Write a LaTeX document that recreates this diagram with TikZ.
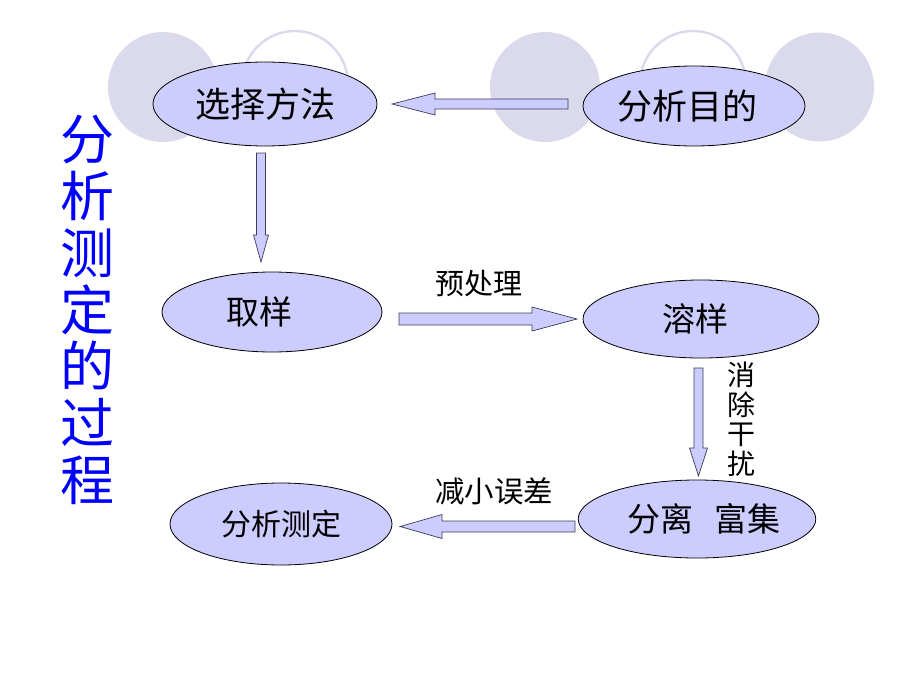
\documentclass[tikz,border=0pt]{standalone}
\usepackage{fontspec}
\newfontfamily\cjk{Noto Sans CJK SC}
\usetikzlibrary{shapes.geometric,calc}
\definecolor{bgc}{RGB}{218,218,236}
\definecolor{lav}{RGB}{204,204,255}
\definecolor{aedge}{RGB}{60,60,90}
\definecolor{ttl}{RGB}{0,0,255}
\tikzset{
  bgfill/.style={fill=bgc, draw=none},
  bgring/.style={draw=bgc, line width=2.4pt, fill=none},
  stagebox/.style={ellipse, draw=black, line width=0.8pt, fill=lav, inner sep=0pt, text=black},
  blockarrow/.style={fill=lav, draw=aedge, line width=0.7pt, line join=miter},
  steplabel/.style={inner sep=0pt, text=black, font=\cjk\fontsize{29}{29.5}\selectfont}
}
% horizontal block arrow: tail, tip, shaft half, head half, signed head length (+ = pointing right)
\newcommand{\harrow}[5]{%
  \draw[blockarrow] let \p1=(#1), \p2=(#2) in
    (\x1,{\y1+#3pt}) -- ({\x2-(#5pt)},{\y1+#3pt}) -- ({\x2-(#5pt)},{\y1+#4pt}) --
    (\x2,\y1) -- ({\x2-(#5pt)},{\y1-#4pt}) -- ({\x2-(#5pt)},{\y1-#3pt}) --
    (\x1,{\y1-#3pt}) -- cycle;}
% vertical block arrow: tail, tip, shaft half, head half, signed head length (+ = pointing down)
\newcommand{\varrow}[5]{%
  \draw[blockarrow] let \p1=(#1), \p2=(#2) in
    ({\x1-#3pt},\y1) -- ({\x1-#3pt},{\y2+(#5pt)}) -- ({\x1-#4pt},{\y2+(#5pt)}) --
    (\x1,\y2) -- ({\x1+#4pt},{\y2+(#5pt)}) -- ({\x1+#3pt},{\y2+(#5pt)}) --
    ({\x1+#3pt},\y1) -- cycle;}
\begin{document}
\begin{tikzpicture}[x=1pt,y=-1pt]
\useasboundingbox (0,0) rectangle (920,690);
\fill[white] (0,0) rectangle (920,690);

% background circles
\fill[bgfill] (163,87) circle[radius=55];
\draw[bgring] (295,84) circle[radius=53];
\fill[bgfill] (545,87) circle[radius=55];
\draw[bgring] (693,84) circle[radius=53];
\fill[bgfill] (819.5,87) circle[radius=54.5];

% vertical title
\node[inner sep=0pt, align=center, text=ttl, font=\cjk\fontsize{54}{56.7}\selectfont] (title) at (87,310)
  {分\\析\\测\\定\\的\\过\\程};

% stages
\node[stagebox, minimum width=224, minimum height=84, font=\cjk\fontsize{35}{40}\selectfont] (xzff) at (265,104) {选择方法};
\node[stagebox, minimum width=222, minimum height=80, font=\cjk\fontsize{35}{40}\selectfont] (fxmd) at (694,106) {分析目的\kern14pt};
\node[stagebox, minimum width=220, minimum height=80, font=\cjk\fontsize{33}{40}\selectfont] (qy) at (272,312) {取样\kern26pt};
\node[stagebox, minimum width=236, minimum height=78, font=\cjk\fontsize{33}{40}\selectfont] (ry) at (701,319) {溶样\kern12pt};
\node[stagebox, minimum width=230, minimum height=78, font=\cjk\fontsize{33}{40}\selectfont] (flfj) at (697,519) {\kern14pt分离\kern22pt富集};
\node[stagebox, minimum width=222, minimum height=82, font=\cjk\fontsize{30}{36}\selectfont] (fxcd) at (281,524) {分析测定};

% arrow end points
\coordinate (a1t) at (568,104);
\coordinate (a1h) at (392,104);
\coordinate (a2t) at (261,153);
\coordinate (a2h) at (261,262);
\coordinate (a3t) at (399,319);
\coordinate (a3h) at (577,319);
\coordinate (a4t) at (698.5,368);
\coordinate (a4h) at (698.5,476);
\coordinate (a5t) at (575,526.5);
\coordinate (a5h) at (400,526.5);

% block arrows
\harrow{a1t}{a1h}{5}{11}{-43}
\varrow{a2t}{a2h}{4.5}{7.5}{27}
\harrow{a3t}{a3h}{6}{12}{45}
\varrow{a4t}{a4h}{4.5}{9}{28}
\harrow{a5t}{a5h}{5.5}{12}{-42}

% step labels
\node[steplabel] (lb1) at (479,284) {预处理};
\node[steplabel, align=center, font=\cjk\fontsize{28}{29.5}\selectfont] (lb2) at (741,419) {消\\除\\干\\扰};
\node[steplabel, font=\cjk\fontsize{29.5}{30}\selectfont] (lb3) at (494,491) {减小误差};
\end{tikzpicture}
\end{document}
